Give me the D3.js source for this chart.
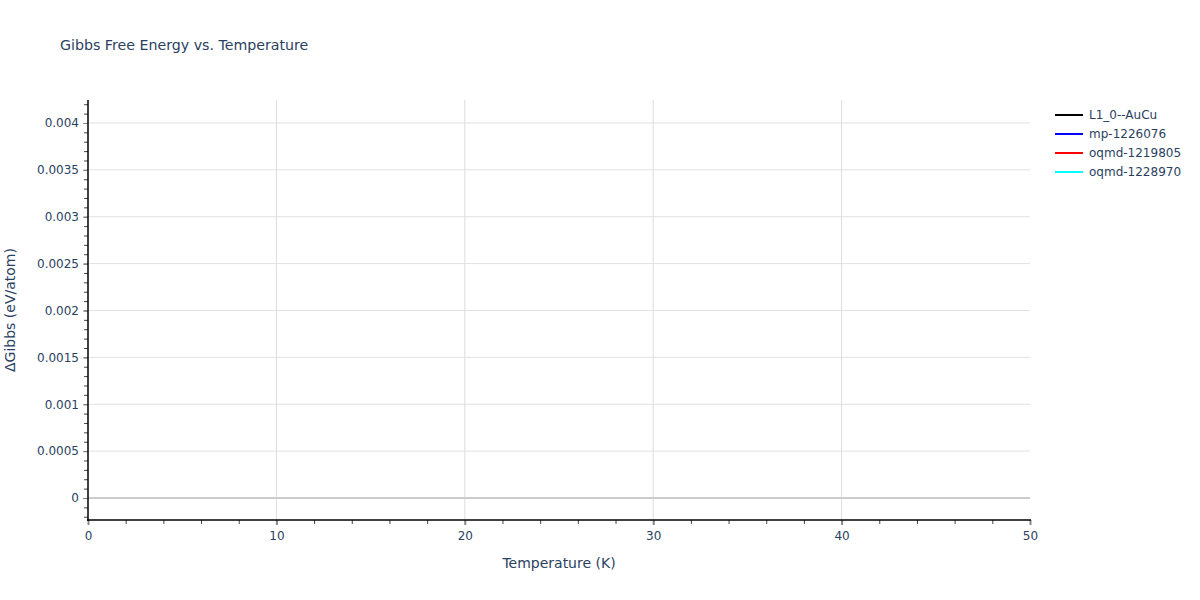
<!DOCTYPE html>
<html><head><meta charset="utf-8">
<script src="https://cdn.jsdelivr.net/npm/d3@7"></script>
<style>body{margin:0;background:#fff}text{font-family:"DejaVu Sans",Verdana,sans-serif}</style>
</head><body><svg id="c" width="1200" height="600"></svg>
<script>
const seriesNames = ["L1_0--AuCu","mp-1226076","oqmd-1219805","oqmd-1228970"];
const seriesColors = ["#000000","#0000ff","#ff0000","#00ffff"];
// no visible data points in the reference
const seriesValues = [[],[],[],[]];
const xTicks = [0,10,20,30,40,50];
const yTicks = [0,0.0005,0.001,0.0015,0.002,0.0025,0.003,0.0035,0.004];
const yTickLabels = ["0","0.0005","0.001","0.0015","0.002","0.0025","0.003","0.0035","0.004"];
const xDomain = [0,50];
const yDomain = [-0.000235,0.004245];

const svg = d3.select("#c");
const L=88,R=1030,T=100,B=520;
const x = d3.scaleLinear().domain(xDomain).range([L,R]);
const y = d3.scaleLinear().domain(yDomain).range([B,T]);
const txt="#2a3f5f";

// grid
svg.append("g").selectAll("line").data(yTicks.filter(d=>d!==0)).join("line")
 .attr("x1",L).attr("x2",R).attr("y1",d=>y(d)).attr("y2",d=>y(d))
 .attr("stroke","#e2e2e2").attr("stroke-width",1);
svg.append("g").selectAll("line").data(xTicks.filter(d=>d!==0&&d!==50)).join("line")
 .attr("y1",T).attr("y2",B).attr("x1",d=>x(d)).attr("x2",d=>x(d))
 .attr("stroke","#dddddd").attr("stroke-width",1);
// zero line
svg.append("line").attr("x1",L).attr("x2",R).attr("y1",y(0)).attr("y2",y(0))
 .attr("stroke","#cccccc").attr("stroke-width",2);

// series lines
const line = d3.line().x(d=>x(d[0])).y(d=>y(d[1]));
seriesValues.forEach((v,i)=>{
  svg.append("path").datum(v).attr("d",line).attr("fill","none")
   .attr("stroke",seriesColors[i]).attr("stroke-width",2);
});

// x axis
const xa = svg.append("g").attr("transform",`translate(0,${B})`);
xa.call(d3.axisBottom(x).tickValues(d3.range(0,51,2)).tickSize(4).tickFormat(""))
  .call(g=>g.select(".domain").remove());
xa.selectAll(".tick line").attr("stroke","#444");
const xa2 = svg.append("g").attr("transform",`translate(0,${B})`);
xa2.call(d3.axisBottom(x).tickValues(xTicks).tickSize(5).tickPadding(6).tickFormat(d3.format("d")))
  .call(g=>g.select(".domain").remove());
xa2.selectAll(".tick line").attr("stroke","#888").attr("stroke-width",2);
xa2.selectAll("text").attr("fill",txt).attr("font-size",12).attr("font-family","DejaVu Sans");
svg.append("line").attr("x1",L-1).attr("x2",R+1).attr("y1",B).attr("y2",B).attr("stroke","#000").attr("stroke-width",1.5);

// y axis
const yMinor = d3.range(-2,43).map(i=>i*0.0001).filter(d=>d>=yDomain[0]&&d<=yDomain[1]);
const ya = svg.append("g").attr("transform",`translate(${L},0)`);
ya.call(d3.axisLeft(y).tickValues(yMinor).tickSize(4).tickFormat(""))
  .call(g=>g.select(".domain").remove());
ya.selectAll(".tick line").attr("stroke","#444");
const ya2 = svg.append("g").attr("transform",`translate(${L},0)`);
ya2.call(d3.axisLeft(y).tickValues(yTicks).tickSize(5).tickPadding(4).tickFormat((d,i)=>yTickLabels[i]))
  .call(g=>g.select(".domain").remove());
ya2.selectAll(".tick line").attr("stroke","#888").attr("stroke-width",1);
ya2.selectAll("text").attr("fill",txt).attr("font-size",12).attr("font-family","DejaVu Sans");
svg.append("line").attr("x1",L).attr("x2",L).attr("y1",T).attr("y2",B+1).attr("stroke","#000").attr("stroke-width",1.5);

// titles
svg.append("text").attr("x",60).attr("y",50).attr("fill",txt).attr("font-size",14.2).text("Gibbs Free Energy vs. Temperature");
svg.append("text").attr("x",(L+R)/2).attr("y",568).attr("text-anchor","middle").attr("fill",txt).attr("font-size",14).text("Temperature (K)");
svg.append("text").attr("transform",`translate(10,${(T+B)/2}) rotate(-90)`).attr("text-anchor","middle").attr("dy","0.35em").attr("fill",txt).attr("font-size",14).text("ΔGibbs (eV/atom)");

// legend
const lg = svg.append("g").selectAll("g").data(seriesNames).join("g")
  .attr("transform",(d,i)=>`translate(1055,${115+i*19})`);
lg.append("line").attr("x1",0).attr("x2",28).attr("stroke",(d,i)=>seriesColors[i]).attr("stroke-width",2);
lg.append("text").attr("x",34).attr("dy","0.35em").attr("fill",txt).attr("font-size",12).text(d=>d);
</script></body></html>
